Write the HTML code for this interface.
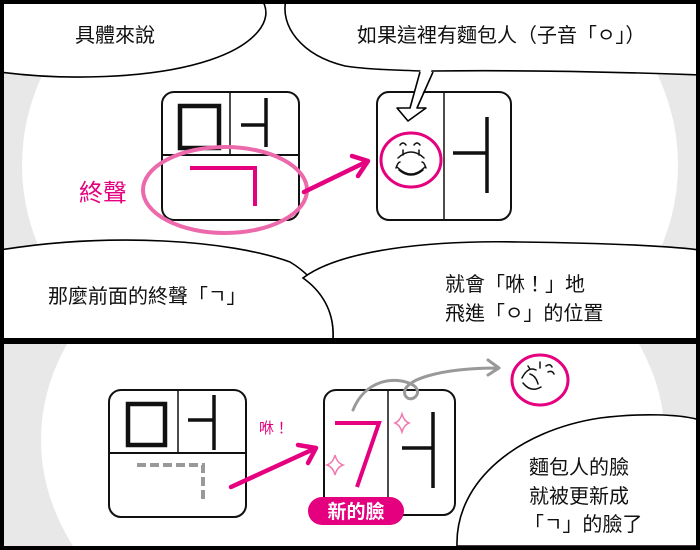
<!DOCTYPE html>
<html><head><meta charset="utf-8"><style>
html,body{margin:0;padding:0;background:#000;width:700px;height:550px;overflow:hidden;}
svg{display:block;}
text{font-family:"Liberation Sans","Noto Sans CJK TC",sans-serif;}
</style></head><body>
<svg width="700" height="550" viewBox="0 0 700 550" xmlns="http://www.w3.org/2000/svg">
<rect x="0" y="0" width="700" height="550" fill="#000"/>
<clipPath id="p1"><rect x="4" y="4" width="692" height="334"/></clipPath>
<clipPath id="p2"><rect x="4" y="344" width="692" height="202"/></clipPath>
<g clip-path="url(#p1)">
<rect x="4" y="4" width="692" height="334" fill="#fff"/>
<rect x="4" y="70" width="692" height="190" fill="#e8e8e8"/>
<ellipse cx="350" cy="165" rx="328" ry="260" fill="#fff"/>
<path d="M0,72 C60,80 150,80 210,60 C255,45 275,20 262,0 L0,0 Z" fill="#fff" stroke="#000" stroke-width="1.6"/>
<path d="M286,0 C280,25 300,55 345,66 C370,70 400,70 420,71 L433,71 C520,70 620,72 700,75 L700,0 Z" fill="#fff" stroke="#000" stroke-width="1.6" stroke-linejoin="round"/>
<text x="75" y="42" font-size="20" fill="#111">具體來說</text>
<text x="357" y="42" font-size="20" fill="#111">如果這裡有麵包人（子音「ㅇ」）</text>
<rect x="162" y="92" width="137" height="128" rx="12" fill="#fff" stroke="#111" stroke-width="2"/>
<line x1="162" y1="155" x2="299" y2="155" stroke="#111" stroke-width="2"/>
<line x1="230" y1="92" x2="230" y2="155" stroke="#111" stroke-width="1.5"/>
<rect x="180" y="106" width="39" height="42" fill="none" stroke="#111" stroke-width="4.5"/>
<line x1="266" y1="98" x2="266" y2="147" stroke="#111" stroke-width="3.5"/>
<line x1="241" y1="125" x2="266" y2="125" stroke="#111" stroke-width="3.5"/>
<path d="M190,168 L255,168 L255,206" fill="none" stroke="#e4007f" stroke-width="4"/>
<ellipse cx="225" cy="190" rx="82" ry="43" fill="none" stroke="#ec6aab" stroke-width="4"/>
<text x="79" y="201" font-size="24" fill="#e4007f">終聲</text>
<path d="M304,192 L368,161 M352,156 L368,161 L358,176" fill="none" stroke="#e4007f" stroke-width="4.5" stroke-linecap="round" stroke-linejoin="round"/>
<rect x="377" y="92" width="134" height="128" rx="12" fill="#fff" stroke="#111" stroke-width="2"/>
<line x1="444" y1="92" x2="444" y2="220" stroke="#111" stroke-width="1.5"/>
<path d="M421,69 L410,108 L397,108 L408,121 L426,108 L417,108 L432,69 Z" fill="#fff" stroke="none"/>
<path d="M420,72 L410,108 L397,108 L408,121 L426,108 L417,108 L433,72" fill="none" stroke="#000" stroke-width="1.6" stroke-linejoin="round"/>
<ellipse cx="411" cy="160" rx="30" ry="27" fill="#fff" stroke="#e4007f" stroke-width="3"/>
<path d="M400,145 q3,-4 6,0 M414,145 q3,-4 6,0 M403,150 v5 M419,150 v5 M398,158 q13,-12 26,0 M399,170 q12,10 24,0 M396,168 q2,-6 4,-6 M426,168 q-2,-6 -4,-6 M397,167 q14,14 28,0" fill="none" stroke="#111" stroke-width="1.5" stroke-linecap="round"/>
<line x1="487" y1="117" x2="487" y2="193" stroke="#111" stroke-width="3.5"/>
<line x1="453" y1="153" x2="487" y2="153" stroke="#111" stroke-width="3.5"/>
<path d="M0,250 C110,232 230,240 290,262 C320,280 335,310 333,340 L0,340 Z" fill="#fff" stroke="#000" stroke-width="1.6"/>
<path d="M303,278 C340,250 430,240 520,242 C600,243 660,245 700,250 L700,340 L333,340 C335,310 320,290 303,278 Z" fill="#fff" stroke="#000" stroke-width="1.6"/>
<text x="48" y="303" font-size="20" fill="#111">那麼前面的終聲「ㄱ」</text>
<text x="445" y="291" font-size="20" fill="#111">就會「咻！」地</text>
<text x="445" y="320" font-size="20" fill="#111">飛進「ㅇ」的位置</text>
</g>
<g clip-path="url(#p2)">
<rect x="4" y="344" width="692" height="202" fill="#e8e8e8"/>
<ellipse cx="353" cy="440" rx="312" ry="240" fill="#fff"/>
<rect x="109" y="390" width="137" height="127" rx="12" fill="#fff" stroke="#111" stroke-width="2"/>
<line x1="109" y1="453" x2="246" y2="453" stroke="#111" stroke-width="2"/>
<line x1="178" y1="390" x2="178" y2="453" stroke="#111" stroke-width="1.5"/>
<rect x="128" y="404" width="37" height="41" fill="none" stroke="#111" stroke-width="4.5"/>
<line x1="214" y1="395" x2="214" y2="450" stroke="#111" stroke-width="3.5"/>
<line x1="188" y1="420" x2="214" y2="420" stroke="#111" stroke-width="3.5"/>
<path d="M137,465 L203,465 L203,503" fill="none" stroke="#999" stroke-width="4" stroke-dasharray="9,4"/>
<path d="M231,487 L316,448 M298,445 L316,448 L308,463" fill="none" stroke="#e4007f" stroke-width="4.5" stroke-linecap="round" stroke-linejoin="round"/>
<text x="259" y="433" font-size="15" fill="#e4007f">咻！</text>
<rect x="324" y="390" width="131" height="125" rx="12" fill="#fff" stroke="#111" stroke-width="2"/>
<line x1="388" y1="390" x2="388" y2="515" stroke="#111" stroke-width="1.5"/>
<path d="M335,423 L379,423 L357,487" fill="none" stroke="#e4007f" stroke-width="4"/>
<line x1="433" y1="412" x2="433" y2="488" stroke="#111" stroke-width="3.5"/>
<line x1="402" y1="448" x2="433" y2="448" stroke="#111" stroke-width="3.5"/>
<path d="M335,455 Q337,463 343,465 Q337,467 335,475 Q333,467 327,465 Q333,463 335,455 Z" fill="none" stroke="#f07ab0" stroke-width="1.5"/>
<path d="M402,414 Q404,421 409,423 Q404,425 402,432 Q400,425 395,423 Q400,421 402,414 Z" fill="none" stroke="#f07ab0" stroke-width="1.5"/>
<rect x="308" y="497" width="96" height="28" rx="14" fill="#e4007f"/>
<text x="356" y="518" font-size="19" fill="#fff" text-anchor="middle" font-weight="bold">新的臉</text>
<path d="M353,410 C365,380 395,375 413,385 C425,393 410,405 405,395 C400,380 440,368 498,368 M488,360 L499,368 L488,375" fill="none" stroke="#999" stroke-width="3" stroke-linecap="round" stroke-linejoin="round"/>
<ellipse cx="540" cy="380" rx="28" ry="25" fill="#fff" stroke="#e4007f" stroke-width="3"/>
<path d="M522,378 q6,-12 14,-8 M523,383 q8,10 18,4 M530,374 q6,2 8,10 M540,362 v6 M546,366 q4,-3 6,1 M548,372 q4,-2 6,2 M528,366 l2,3" fill="none" stroke="#111" stroke-width="1.5" stroke-linecap="round"/>
<path d="M457,546 C455,480 520,430 600,418 C640,413 680,414 700,420 L700,546 Z" fill="#fff" stroke="#000" stroke-width="1.6"/>
<text x="529" y="474" font-size="20" fill="#111">麵包人的臉</text>
<text x="529" y="503" font-size="20" fill="#111">就被更新成</text>
<text x="524" y="531" font-size="20" fill="#111">「ㄱ」的臉了</text>
</g>
</svg>
</body></html>
